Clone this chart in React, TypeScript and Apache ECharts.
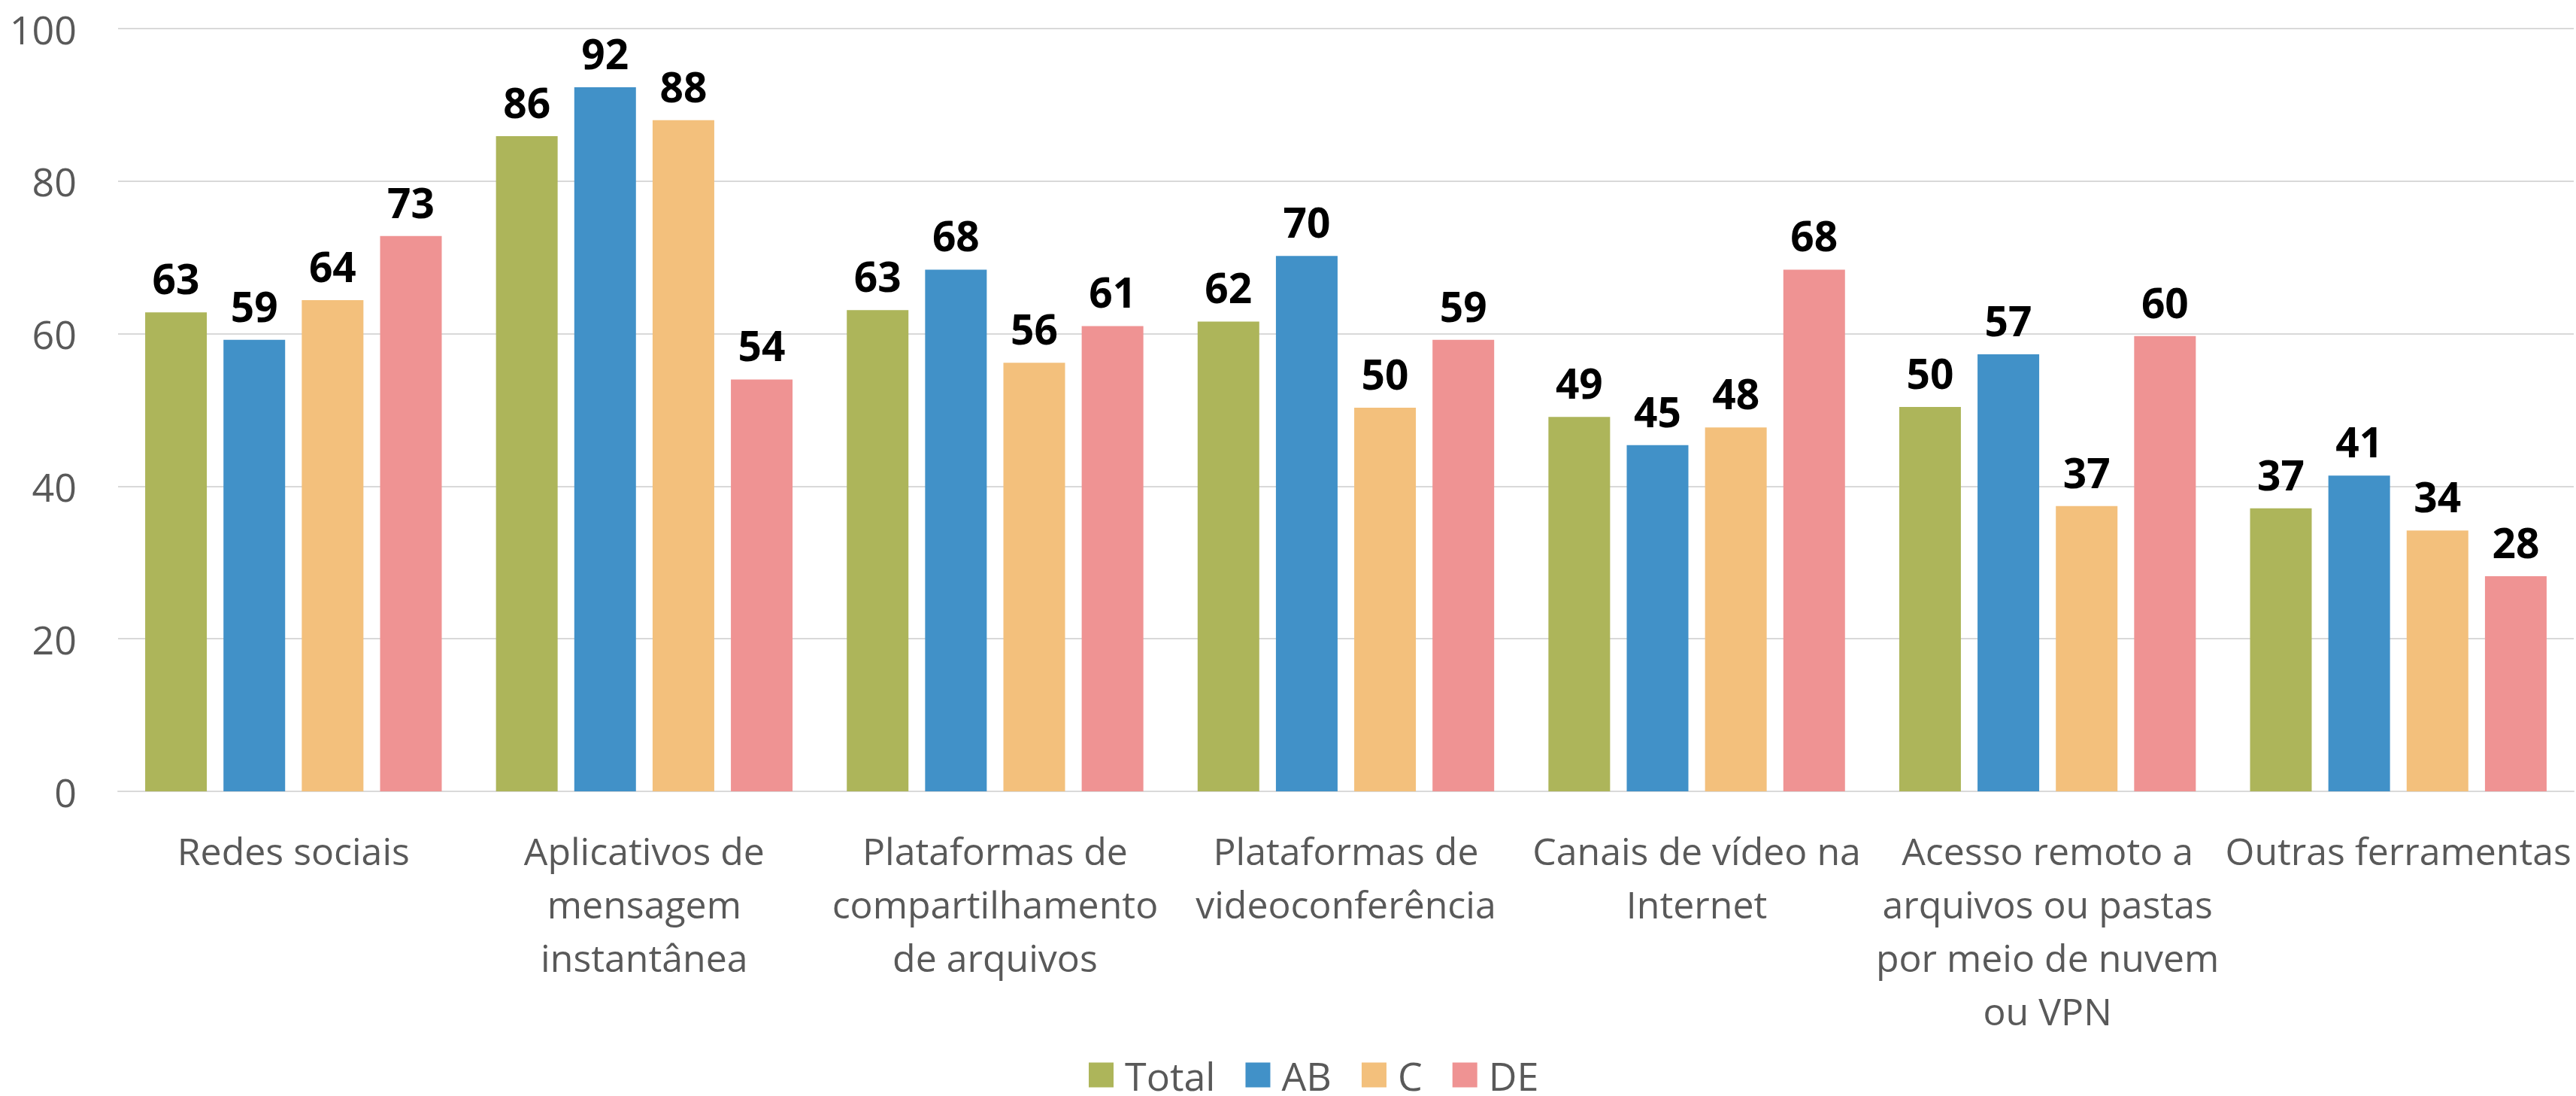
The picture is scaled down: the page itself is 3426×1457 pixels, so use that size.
import React, { useEffect, useRef } from "react";
import * as echarts from "echarts";

const categories = [
  "Redes sociais",
  "Aplicativos de\nmensagem\ninstantânea",
  "Plataformas de\ncompartilhamento\nde arquivos",
  "Plataformas de\nvideoconferência",
  "Canais de vídeo na\nInternet",
  "Acesso remoto a\narquivos ou pastas\npor meio de nuvem\nou VPN",
  "Outras ferramentas",
];

const seriesNames = ["Total", "AB", "C", "DE"];
const totalValues = [62.8, 85.9, 63.1, 61.6, 49.1, 50.4, 37.1];
const abValues = [59.2, 92.3, 68.4, 70.2, 45.4, 57.3, 41.4];
const cValues = [64.4, 88.0, 56.2, 50.3, 47.7, 37.4, 34.2];
const deValues = [72.8, 54.0, 61.0, 59.2, 68.4, 59.7, 28.2];
const seriesColors = ["#ADB55A", "#4191C8", "#F3C07C", "#EF9393"];
const yTicks = { min: 0, max: 100, interval: 20 };

const FONT = "'Open Sans', 'Noto Sans', sans-serif";

export default function App() {
  const ref = useRef<HTMLDivElement>(null);
  useEffect(() => {
    document.body.style.margin = "0";
    if (!ref.current) return;
    const chart = echarts.init(ref.current, null, { renderer: "svg" });
    const allValues = [totalValues, abValues, cValues, deValues];
    chart.setOption({
      animation: false,
      backgroundColor: "#ffffff",
      textStyle: { fontFamily: FONT },
      grid: { left: 157, right: 3, top: 38, bottom: 405, containLabel: false },
      legend: {
        left: 1443,
        top: 1396,
        itemWidth: 33,
        itemHeight: 33,
        itemGap: 40,
        icon: "rect",
        data: seriesNames,
        textStyle: {
          fontFamily: FONT,
          fontSize: 52,
          color: "#595959",
          lineHeight: 56,
          padding: [0, 0, 0, 10],
        },
      },
      xAxis: {
        type: "category",
        data: categories,
        axisLine: { show: true, lineStyle: { color: "#D9D9D9", width: 2 } },
        axisTick: { show: false },
        axisLabel: {
          interval: 0,
          margin: 43,
          fontFamily: FONT,
          fontSize: 50,
          lineHeight: 71,
          color: "#595959",
        },
      },
      yAxis: {
        type: "value",
        min: yTicks.min,
        max: yTicks.max,
        interval: yTicks.interval,
        axisLine: { show: false },
        axisTick: { show: false },
        splitLine: { lineStyle: { color: "#D9D9D9", width: 2 } },
        axisLabel: {
          margin: 55,
          fontFamily: FONT,
          fontSize: 52,
          color: "#595959",
        },
      },
      series: seriesNames.map((name, i) => ({
        name,
        type: "bar",
        data: allValues[i],
        barWidth: 82,
        barGap: "27%",
        itemStyle: { color: seriesColors[i] },
        label: {
          show: true,
          position: "top",
          distance: 18,
          fontFamily: FONT,
          fontSize: 55,
          fontWeight: "bold",
          color: "#000000",
          formatter: (p: any) => String(Math.round(p.value)),
        },
      })),
    });
    return () => chart.dispose();
  }, []);
  return <div ref={ref} style={{ width: 3426, height: 1457 }} />;
}
